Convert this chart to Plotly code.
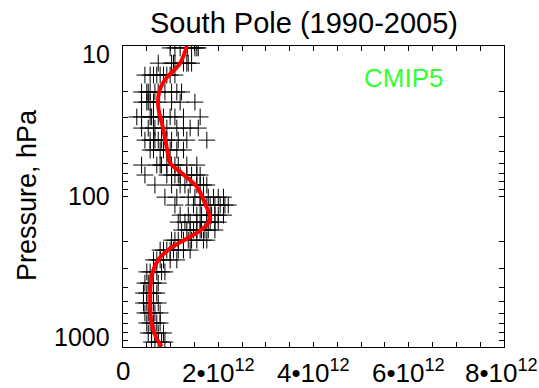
import plotly.graph_objects as go

# Scatter: pressure levels (hPa) and individual values (units of 1e12)
levels = [10.3, 13.0, 15.6, 20.2, 23.6, 29.6, 35.1, 42.2, 49.1, 61.8, 72.0, 83.9,
          101, 114, 133, 148, 167, 195, 227, 264, 317, 376, 438, 510, 594, 693, 807, 927]
level_values = [
    [0.99, 1.09, 1.20, 1.35, 1.44, 1.51, 1.55, 1.58],
    [0.74, 1.02, 1.06, 1.09, 1.27, 1.34, 1.37, 1.44],
    [0.46, 0.57, 0.64, 0.71, 0.78, 0.85, 0.92, 0.99, 1.09],
    [0.39, 0.50, 0.53, 0.57, 0.67, 0.74, 0.88, 1.02, 1.13, 1.23],
    [0.39, 0.50, 0.53, 0.57, 0.64, 0.74, 1.02, 1.20, 1.51],
    [0.29, 0.39, 0.57, 0.60, 0.64, 0.74, 0.85, 0.99, 1.09, 1.27, 1.62],
    [0.39, 0.53, 0.64, 0.67, 0.81, 0.92, 1.13, 1.27, 1.41, 1.58],
    [0.46, 0.57, 0.64, 0.67, 0.74, 0.81, 0.92, 1.02, 1.16, 1.34, 1.76],
    [0.57, 0.64, 0.78, 0.85, 0.92, 0.99, 1.13, 1.27],
    [0.39, 0.71, 0.78, 0.81, 0.92, 1.02, 1.09, 1.16, 1.34, 1.55],
    [0.46, 0.92, 1.02, 1.09, 1.16, 1.20, 1.34, 1.44, 1.55, 1.62],
    [0.67, 1.02, 1.20, 1.30, 1.41, 1.55, 1.62, 1.69, 1.76],
    [0.88, 1.13, 1.37, 1.51, 1.62, 1.69, 1.79, 1.90, 2.00, 2.11],
    [1.09, 1.48, 1.62, 1.76, 1.83, 1.93, 2.04, 2.14, 2.21],
    [1.20, 1.37, 1.55, 1.65, 1.76, 1.86, 1.93, 2.00, 2.11],
    [1.16, 1.30, 1.41, 1.55, 1.62, 1.76, 1.83, 1.93, 2.00],
    [1.23, 1.34, 1.41, 1.48, 1.55, 1.62, 1.65, 1.72, 1.79, 1.93],
    [1.02, 1.09, 1.16, 1.27, 1.37, 1.44, 1.55, 1.69, 1.76],
    [0.78, 0.85, 0.92, 0.99, 1.06, 1.16, 1.27, 1.41],
    [0.64, 0.71, 0.78, 0.85, 0.99, 1.13],
    [0.50, 0.57, 0.64, 0.71, 0.81, 0.88],
    [0.46, 0.53, 0.57, 0.64, 0.74],
    [0.43, 0.50, 0.57, 0.64, 0.71],
    [0.43, 0.50, 0.57, 0.64, 0.74],
    [0.46, 0.53, 0.60, 0.67, 0.78],
    [0.50, 0.57, 0.64, 0.71, 0.78],
    [0.53, 0.60, 0.67, 0.74, 0.85],
    [0.60, 0.67, 0.74, 0.81, 0.88],
]

# Mean profile (red line)
mean_p = [10, 13, 16.8, 20.1, 25.3, 36.2, 51.4, 59.9, 69.8, 86.1, 111, 140, 159,
          185, 221, 264, 341, 487, 696, 855, 995]
mean_x = [1.34, 1.20, 0.88, 0.76, 0.74, 0.85, 0.94, 0.99, 1.23, 1.55, 1.72, 1.83,
          1.72, 1.41, 0.99, 0.74, 0.60, 0.57, 0.60, 0.69, 0.81]

scale = 1e12
x_major = [0, 2, 4, 6, 8]
x_tick_labels = ["0", "2•10<sup>12</sup>", "4•10<sup>12</sup>", "6•10<sup>12</sup>", "8•10<sup>12</sup>"]
y_major = [10, 100, 1000]
y_tick_labels = ["10", "100", "1000"]
# label vertical positions (paper fraction) - IDL keeps end labels inside the axis
y_label_pos = [0.975, 0.502, 0.033]

sx, sy = [], []
for p, vals in zip(levels, level_values):
    for v in vals:
        sx.append(v * scale)
        sy.append(p)

fig = go.Figure()
fig.add_trace(go.Scatter(
    x=sx, y=sy, mode="markers",
    marker=dict(symbol="cross-thin", size=12, line=dict(color="black", width=1), color="black"),
    showlegend=False, hoverinfo="skip"))
fig.add_trace(go.Scatter(
    x=[v * scale for v in mean_x], y=mean_p, mode="lines",
    line=dict(color="#ff0000", width=4, shape="spline", smoothing=1.0),
    showlegend=False))

# x ticks every 0.5e12
xtickvals = [i * 0.5 * scale for i in range(0, 17)]

ytickvals = []
for dec in [10, 100]:
    for m in range(1, 10):
        ytickvals.append(dec * m)
ytickvals.append(1000)

font_family = "Liberation Sans, Arial, Helvetica, sans-serif"

annotations = [
    dict(text="Pressure, hPa", xref="paper", yref="paper", x=(27 - 123) / 381, y=(347 - 195) / 301,
         textangle=-90, showarrow=False, xanchor="center", yanchor="middle",
         font=dict(size=27, family=font_family, color="black")),
    dict(text="CMIP5", xref="paper", yref="paper", x=(403 - 123) / 381, y=(347 - 78) / 301,
         showarrow=False, xanchor="center", yanchor="middle",
         font=dict(size=26, family=font_family, color="#33ff33")),
]
for lab, yp in zip(y_tick_labels, y_label_pos):
    annotations.append(dict(text=lab, xref="paper", yref="paper", x=(112 - 123) / 381, y=yp,
                            showarrow=False, xanchor="right", yanchor="middle",
                            font=dict(size=25, family=font_family, color="black")))
for v, lab in zip(x_major, x_tick_labels):
    annotations.append(dict(text=lab, xref="x", yref="paper", x=v * scale, y=(347 - 371) / 301,
                            showarrow=False, xanchor="center", yanchor="middle",
                            xshift=-3 if v == x_major[-1] else 0,
                            font=dict(size=26, family=font_family, color="black")))

fig.update_layout(
    width=539, height=388,
    margin=dict(l=123, r=35, t=46, b=41, autoexpand=False),
    paper_bgcolor="white", plot_bgcolor="white",
    font=dict(family=font_family, size=25, color="black"),
    title=dict(text="South Pole (1990-2005)", x=304 / 539, xref="container", xanchor="center",
               y=1 - 23 / 388, yref="container", yanchor="middle",
               font=dict(size=29, family=font_family, color="black")),
    xaxis=dict(range=[0, 8 * scale], tickvals=xtickvals, showticklabels=False,
               ticks="inside", ticklen=5, tickwidth=1, tickcolor="black",
               showline=True, linecolor="black", linewidth=1, mirror="allticks",
               showgrid=False, zeroline=False, automargin=False),
    yaxis=dict(type="log", range=[3, 1], tickvals=ytickvals, showticklabels=False,
               ticks="inside", ticklen=5, tickwidth=1, tickcolor="black",
               showline=True, linecolor="black", linewidth=1, mirror="allticks",
               showgrid=False, zeroline=False, automargin=False),
    annotations=annotations,
)

fig.write_html("out.html")
